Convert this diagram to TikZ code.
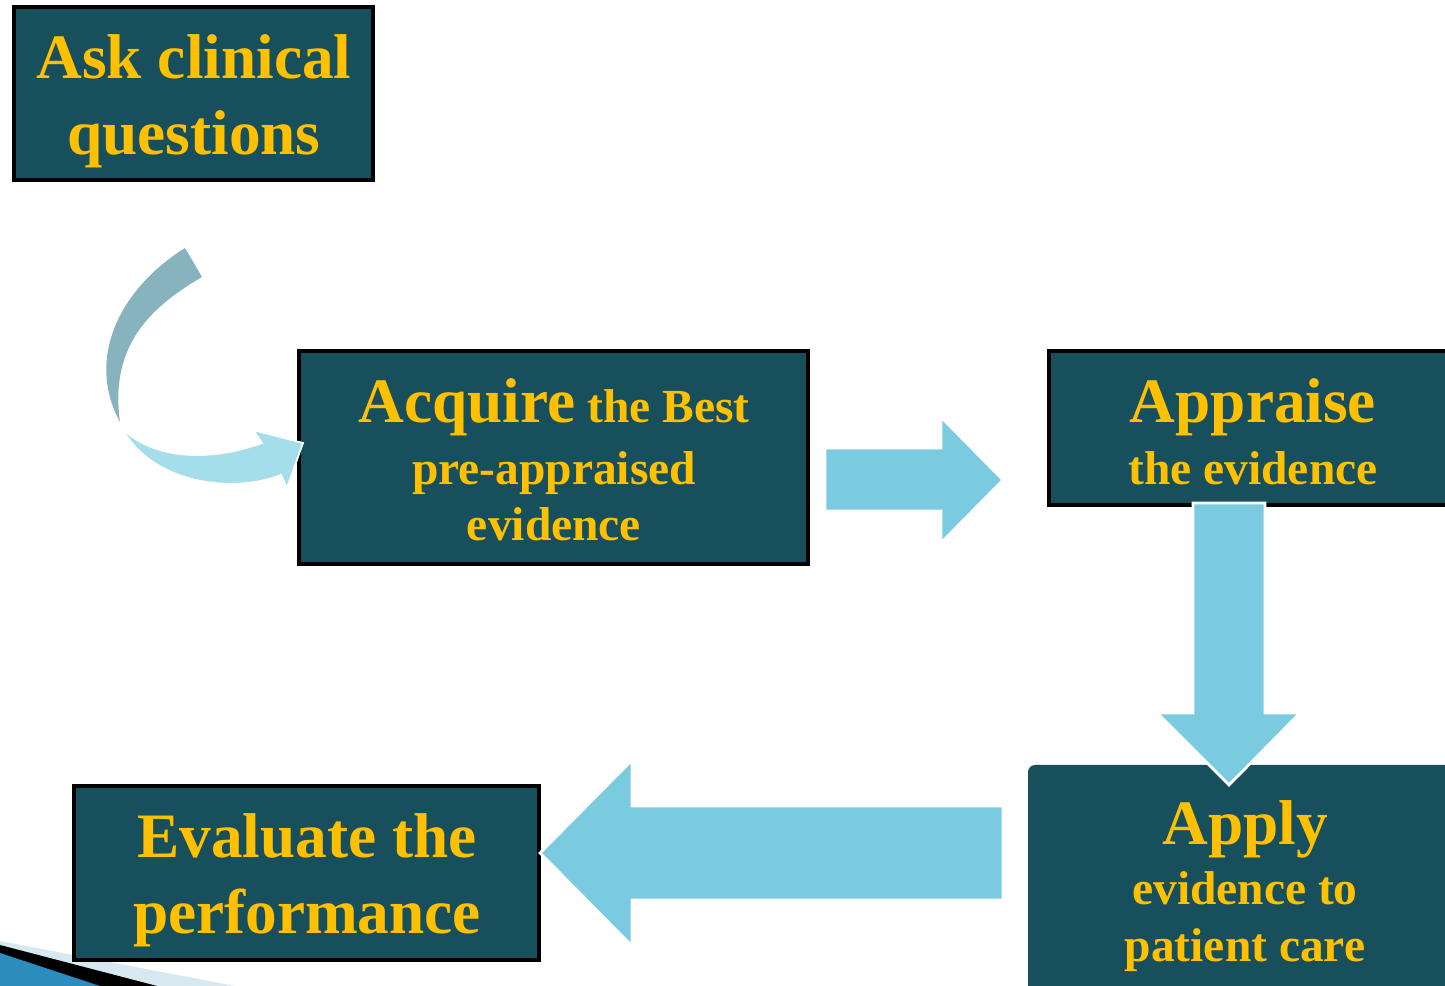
\documentclass[tikz,border=0pt]{standalone}
\usepackage{fontspec}
\setmainfont{Liberation Serif}
\definecolor{boxteal}{RGB}{23,79,93}
\definecolor{gold}{RGB}{255,192,0}
\definecolor{arrowblue}{RGB}{123,203,224}
\definecolor{curvegrey}{RGB}{134,179,190}
\definecolor{curvelight}{RGB}{165,222,235}
\definecolor{cornerblue}{RGB}{45,140,190}
\definecolor{cornerpale}{RGB}{215,232,240}

\begin{document}
\begin{tikzpicture}[x=0.01cm, y=-0.01cm,
	box/.style={draw=black, line width=1.2pt, fill=boxteal},
	boxtext/.style={text=gold, align=center, inner sep=0pt},
	bigtext/.style={boxtext, font=\fontsize{18}{21.6}\selectfont\bfseries},
	smalltext/.style={boxtext, font=\fontsize{13.5}{16}\selectfont\bfseries},
	blockarrow/.style={fill=arrowblue, draw=white, line width=0.8pt}]
	\useasboundingbox (0,0) rectangle (1445,986);
	\clip (0,0) rectangle (1445,986);

	% corner bottom left
	\fill[cornerpale] (0,941) -- (235,986) -- (0,986) -- cycle;
	\fill[black] (0,945) -- (157,986) -- (0,986) -- cycle;
	\fill[cornerblue] (0,953) -- (100,986) -- (0,986) -- cycle;

	% boxes
	\filldraw[box] (14, 7) rectangle (373, 180);
	\node[bigtext] (ask) at (194, 101) {Ask clinical\\questions};
	\filldraw[box] (299, 351) rectangle (808, 564);
	\node[smalltext] (acquire) at (554, 460) {{\fontsize{18}{21.6}\selectfont
	Acquire} the Best\\[1.6pt] pre-appraised\\ evidence};
	\filldraw[box] (1049, 351) rectangle (1460, 505);
	\node[smalltext] (appraise) at (1253, 432) {{\fontsize{18}{21.6}\selectfont
	Appraise}\\[1.6pt] the evidence};
	\fill[boxteal, rounded corners=2pt] (1028, 765) rectangle (1470, 1010);
	\node[smalltext] (apply) at (1245, 886) {{\fontsize{18}{21.6}\selectfont
	Apply}\\[1pt] evidence to\\[0.2pt] patient care};
	\filldraw[box] (74, 786) rectangle (539, 960);
	\node[bigtext] (evaluate) at (307, 880) {Evaluate the\\performance};

	% curved arrow
	\fill[curvegrey] (185, 248) .. controls (118, 290) and (86, 360) .. (120, 422)
	.. controls (110, 350) and (145, 310) .. (202, 277) -- cycle;
	\filldraw[fill=curvelight, draw=white, line width=0.5pt] (122, 428)
	.. controls (150, 482) and (230, 495) .. (281, 475) -- (287, 488)
	-- (303, 443) -- (253, 430) -- (262, 443)
	.. controls (200, 465) and (148, 455) .. (122, 428) -- cycle;

	% block arrows
	\filldraw[blockarrow] (825, 448) -- (941, 448) -- (941, 417) -- (1003, 480)
	-- (941, 543) -- (941, 511) -- (825, 511) -- cycle;
	\filldraw[blockarrow] (1193, 503) -- (1265, 503) -- (1265, 713) -- (1300, 713)
	-- (1229, 785) -- (1157, 713) -- (1193, 713) -- cycle;
	\filldraw[blockarrow] (1003, 806) -- (632, 806) -- (632, 760) -- (540, 853)
	-- (632, 946) -- (632, 900) -- (1003, 900) -- cycle;
\end{tikzpicture}
\end{document}
